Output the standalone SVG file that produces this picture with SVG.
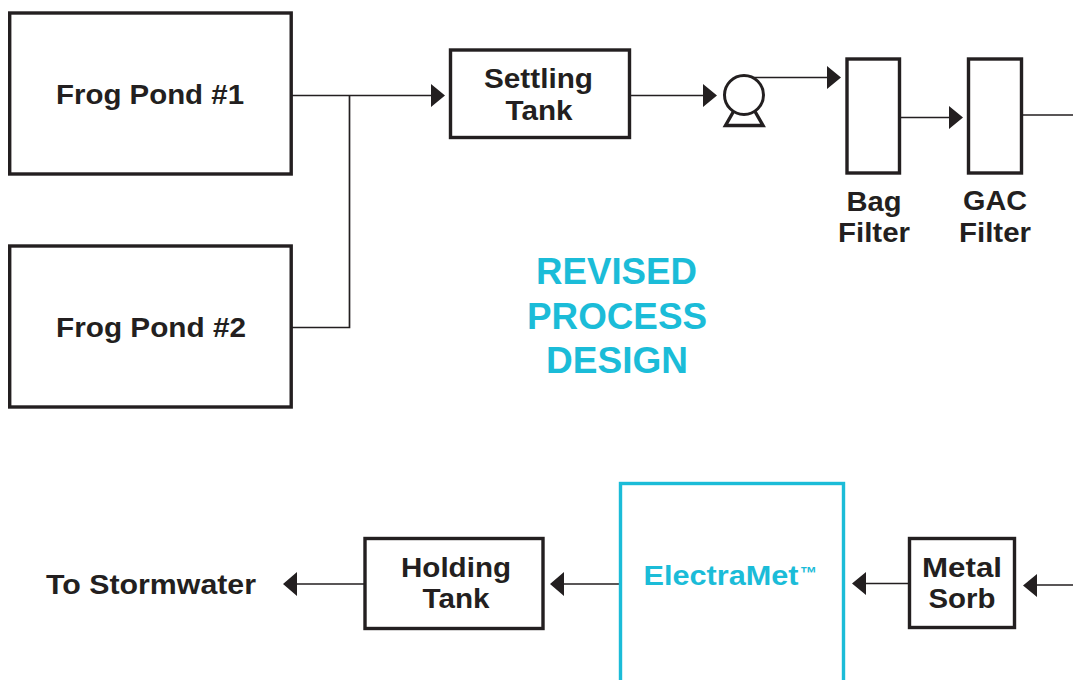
<svg xmlns="http://www.w3.org/2000/svg" width="1073" height="680" viewBox="0 0 1073 680">
<style>
text{font-family:"Liberation Sans",Arial,sans-serif;font-weight:700;text-anchor:middle;fill:#231f20}
.b{fill:#fff;stroke:#231f20;stroke-width:3.4}
.l{fill:none;stroke:#231f20;stroke-width:1.7}
.h{fill:#231f20;stroke:none}
.t{font-size:28px}
.c{font-size:36px;fill:#1bbcd8}
</style>
<rect width="1073" height="680" fill="#fff"/>
<g id="connectors">
<path class="l" d="M292 95.500H432M349.500 95.500V327.500H292M631 95.500H704M751 77.500H829M900 117.500H950M1022 115H1073M1073 585H1035M909 583.500H865M620 584H563M365 584H296"/>
<path class="h" d="M431 84L445 95.500L431 107ZM703 84L717 95.500L703 107ZM827 66L841 77.500L827 89ZM949 106L963 117.500L949 129ZM1037 574L1023 585.500L1037 597ZM866 572L852 583.500L866 595ZM564 572L550 584L564 596ZM297 572L283 584L297 596Z"/>
</g>
<g id="frog-pond-1"><rect class="b" x="9.700" y="13" width="281.500" height="161"/><text class="t" x="150" y="104" textLength="188" lengthAdjust="spacingAndGlyphs">Frog Pond #1</text></g>
<g id="frog-pond-2"><rect class="b" x="9.700" y="246" width="281.500" height="161"/><text class="t" x="151" y="337" textLength="190" lengthAdjust="spacingAndGlyphs">Frog Pond #2</text></g>
<g id="settling-tank"><rect class="b" x="450.500" y="50" width="179" height="87.500"/><text class="t" x="538.500" y="88" textLength="109" lengthAdjust="spacingAndGlyphs">Settling</text><text class="t" x="539" y="120" textLength="67" lengthAdjust="spacingAndGlyphs">Tank</text></g>
<g id="pump"><circle cx="744" cy="95" r="19.500" fill="#fff" stroke="#231f20" stroke-width="3"/><path d="M733.500 111.500L725.500 125.500H763L755 111.500" fill="none" stroke="#231f20" stroke-width="3.400"/></g>
<g id="bag-filter"><rect class="b" x="847" y="59" width="52.500" height="114"/><text class="t" x="874" y="211" textLength="55" lengthAdjust="spacingAndGlyphs">Bag</text><text class="t" x="874" y="242" textLength="72" lengthAdjust="spacingAndGlyphs">Filter</text></g>
<g id="gac-filter"><rect class="b" x="968.500" y="59" width="53" height="114"/><text class="t" x="995" y="210" textLength="64" lengthAdjust="spacingAndGlyphs">GAC</text><text class="t" x="995" y="242" textLength="72" lengthAdjust="spacingAndGlyphs">Filter</text></g>
<g id="title"><text class="c" x="616.500" y="284" textLength="161" lengthAdjust="spacingAndGlyphs">REVISED</text><text class="c" x="617" y="329" textLength="180" lengthAdjust="spacingAndGlyphs">PROCESS</text><text class="c" x="617" y="373" textLength="142" lengthAdjust="spacingAndGlyphs">DESIGN</text></g>
<g id="electramet"><rect x="620.500" y="483.500" width="223" height="210" fill="#fff" stroke="#1bbcd8" stroke-width="3.400"/><text class="t" x="721" y="585" textLength="155" lengthAdjust="spacingAndGlyphs" style="fill:#1bbcd8">ElectraMet</text><text x="808.500" y="579" font-size="17" style="fill:#1bbcd8">™</text></g>
<g id="metal-sorb"><rect class="b" x="909.500" y="538.500" width="105" height="89"/><text class="t" x="962" y="577" textLength="80" lengthAdjust="spacingAndGlyphs">Metal</text><text class="t" x="962" y="608" textLength="67" lengthAdjust="spacingAndGlyphs">Sorb</text></g>
<g id="holding-tank"><rect class="b" x="365" y="538.500" width="178" height="90"/><text class="t" x="456" y="577" textLength="110" lengthAdjust="spacingAndGlyphs">Holding</text><text class="t" x="456" y="608" textLength="67" lengthAdjust="spacingAndGlyphs">Tank</text></g>
<g id="to-stormwater"><text class="t" x="151" y="594" textLength="210" lengthAdjust="spacingAndGlyphs">To Stormwater</text></g>
</svg>
